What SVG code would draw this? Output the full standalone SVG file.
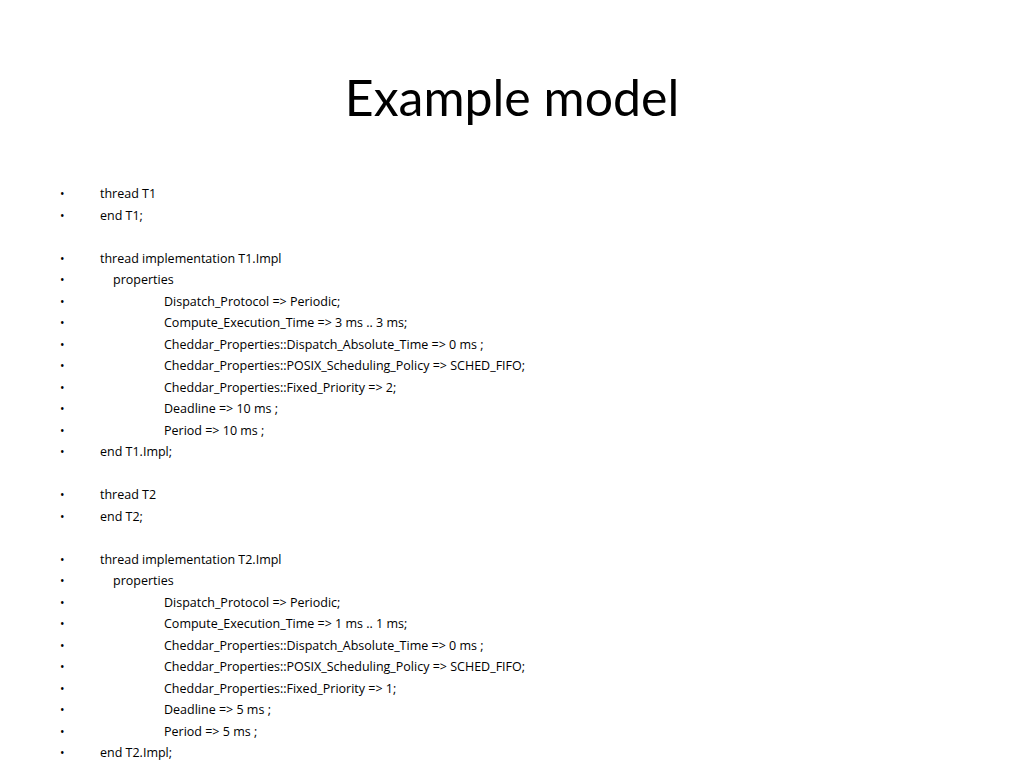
<svg xmlns="http://www.w3.org/2000/svg" width="1024" height="768" viewBox="0 0 1024 768">
<style>
text{font-family:"Open Sans","Liberation Sans",sans-serif;fill:#000}
.t{font-size:12.5px}
.b{font-size:12px}
.h{font-size:50px}
</style>
<rect width="1024" height="768" fill="#fff"/>
<text class="h" x="512" y="116" text-anchor="middle" font-family="Lato, sans-serif" style="font-family:Lato,'Liberation Sans',sans-serif">Example model</text>
<g id="bullets" class="b">
<text x="60" y="198">•</text><text x="60" y="220">•</text>
<text x="60" y="263">•</text><text x="60" y="284">•</text><text x="60" y="306">•</text><text x="60" y="327">•</text><text x="60" y="349">•</text><text x="60" y="370">•</text><text x="60" y="392">•</text><text x="60" y="413">•</text><text x="60" y="435">•</text><text x="60" y="456">•</text>
<text x="60" y="499">•</text><text x="60" y="521">•</text>
<text x="60" y="564">•</text><text x="60" y="585">•</text><text x="60" y="607">•</text><text x="60" y="628">•</text><text x="60" y="650">•</text><text x="60" y="671">•</text><text x="60" y="693">•</text><text x="60" y="714">•</text><text x="60" y="736">•</text><text x="60" y="757">•</text>
</g>
<g id="lines" class="t">
<text x="100" y="198">thread T1</text>
<text x="100" y="220">end T1;</text>
<text x="100" y="263">thread implementation T1.Impl</text>
<text x="113" y="284">properties</text>
<text x="164" y="306">Dispatch_Protocol =&gt; Periodic;</text>
<text x="164" y="327">Compute_Execution_Time =&gt;  3 ms ..  3 ms;</text>
<text x="164" y="349">Cheddar_Properties::Dispatch_Absolute_Time =&gt;  0 ms ;</text>
<text x="164" y="370">Cheddar_Properties::POSIX_Scheduling_Policy =&gt; SCHED_FIFO;</text>
<text x="164" y="392">Cheddar_Properties::Fixed_Priority =&gt;  2;</text>
<text x="164" y="413">Deadline  =&gt;  10 ms ;</text>
<text x="164" y="435">Period =&gt;  10 ms ;</text>
<text x="100" y="456">end T1.Impl;</text>
<text x="100" y="499">thread T2</text>
<text x="100" y="521">end T2;</text>
<text x="100" y="564">thread implementation T2.Impl</text>
<text x="113" y="585">properties</text>
<text x="164" y="607">Dispatch_Protocol =&gt; Periodic;</text>
<text x="164" y="628">Compute_Execution_Time =&gt;  1 ms ..  1 ms;</text>
<text x="164" y="650">Cheddar_Properties::Dispatch_Absolute_Time =&gt;  0 ms ;</text>
<text x="164" y="671">Cheddar_Properties::POSIX_Scheduling_Policy =&gt; SCHED_FIFO;</text>
<text x="164" y="693">Cheddar_Properties::Fixed_Priority =&gt;  1;</text>
<text x="164" y="714">Deadline  =&gt;  5 ms ;</text>
<text x="164" y="736">Period =&gt;  5 ms ;</text>
<text x="100" y="757">end T2.Impl;</text>
</g>
</svg>
